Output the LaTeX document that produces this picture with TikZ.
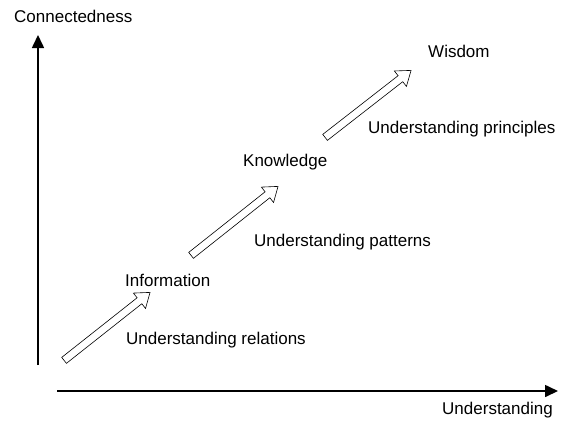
\documentclass[tikz,border=0pt]{standalone}
\usepackage{fontspec}
\setmainfont{Liberation Sans}
\usetikzlibrary{arrows.meta,shapes.arrows}
\begin{document}
\begin{tikzpicture}[x=1pt,y=-1pt,
  axis/.style={line width=1.6pt,-{Triangle[length=13pt,width=12pt]}},
  lbl/.style={inner sep=0pt,anchor=west,font=\fontsize{17}{20}\selectfont},
  barrow/.style={draw,line width=0.6pt,fill=white,single arrow,
    single arrow head extend=6pt,single arrow tip angle=72,
    inner xsep=0pt,inner ysep=3.5pt,outer sep=0pt}]
\useasboundingbox (0,0) rectangle (561,421);
% axes
\coordinate (yb) at (38,365);
\coordinate (yt) at (38,35);
\coordinate (xl) at (57,391);
\coordinate (xr) at (558,391);
\draw[axis] (yb) -- (yt);
\draw[axis] (xl) -- (xr);
\node[lbl] (ylab) at (14,16) {Connectedness};
\node[lbl] (xlab) at (442,410) {Understanding};
% arrow end points
\coordinate (t1) at (62,362);
\coordinate (h1) at (148,294);
\coordinate (t2) at (189,257);
\coordinate (h2) at (276,188);
\coordinate (t3) at (323,139);
\coordinate (h3) at (409,72);
\path (t1) -- (h1) node[midway,sloped,barrow,minimum height=109.6pt] (a1) {};
\path (t2) -- (h2) node[midway,sloped,barrow,minimum height=111pt] (a2) {};
\path (t3) -- (h3) node[midway,sloped,barrow,minimum height=109pt] (a3) {};
% labels
\node[lbl] (info) at (125,280) {Information};
\node[lbl] (know) at (243,162) {Knowledge};
\node[lbl] (wis) at (428,51) {Wisdom};
\node[lbl] (ur) at (126,340) {Understanding relations};
\node[lbl] (up) at (254,242) {Understanding patterns};
\node[lbl] (upr) at (368,129) {Understanding principles};
\end{tikzpicture}
\end{document}
